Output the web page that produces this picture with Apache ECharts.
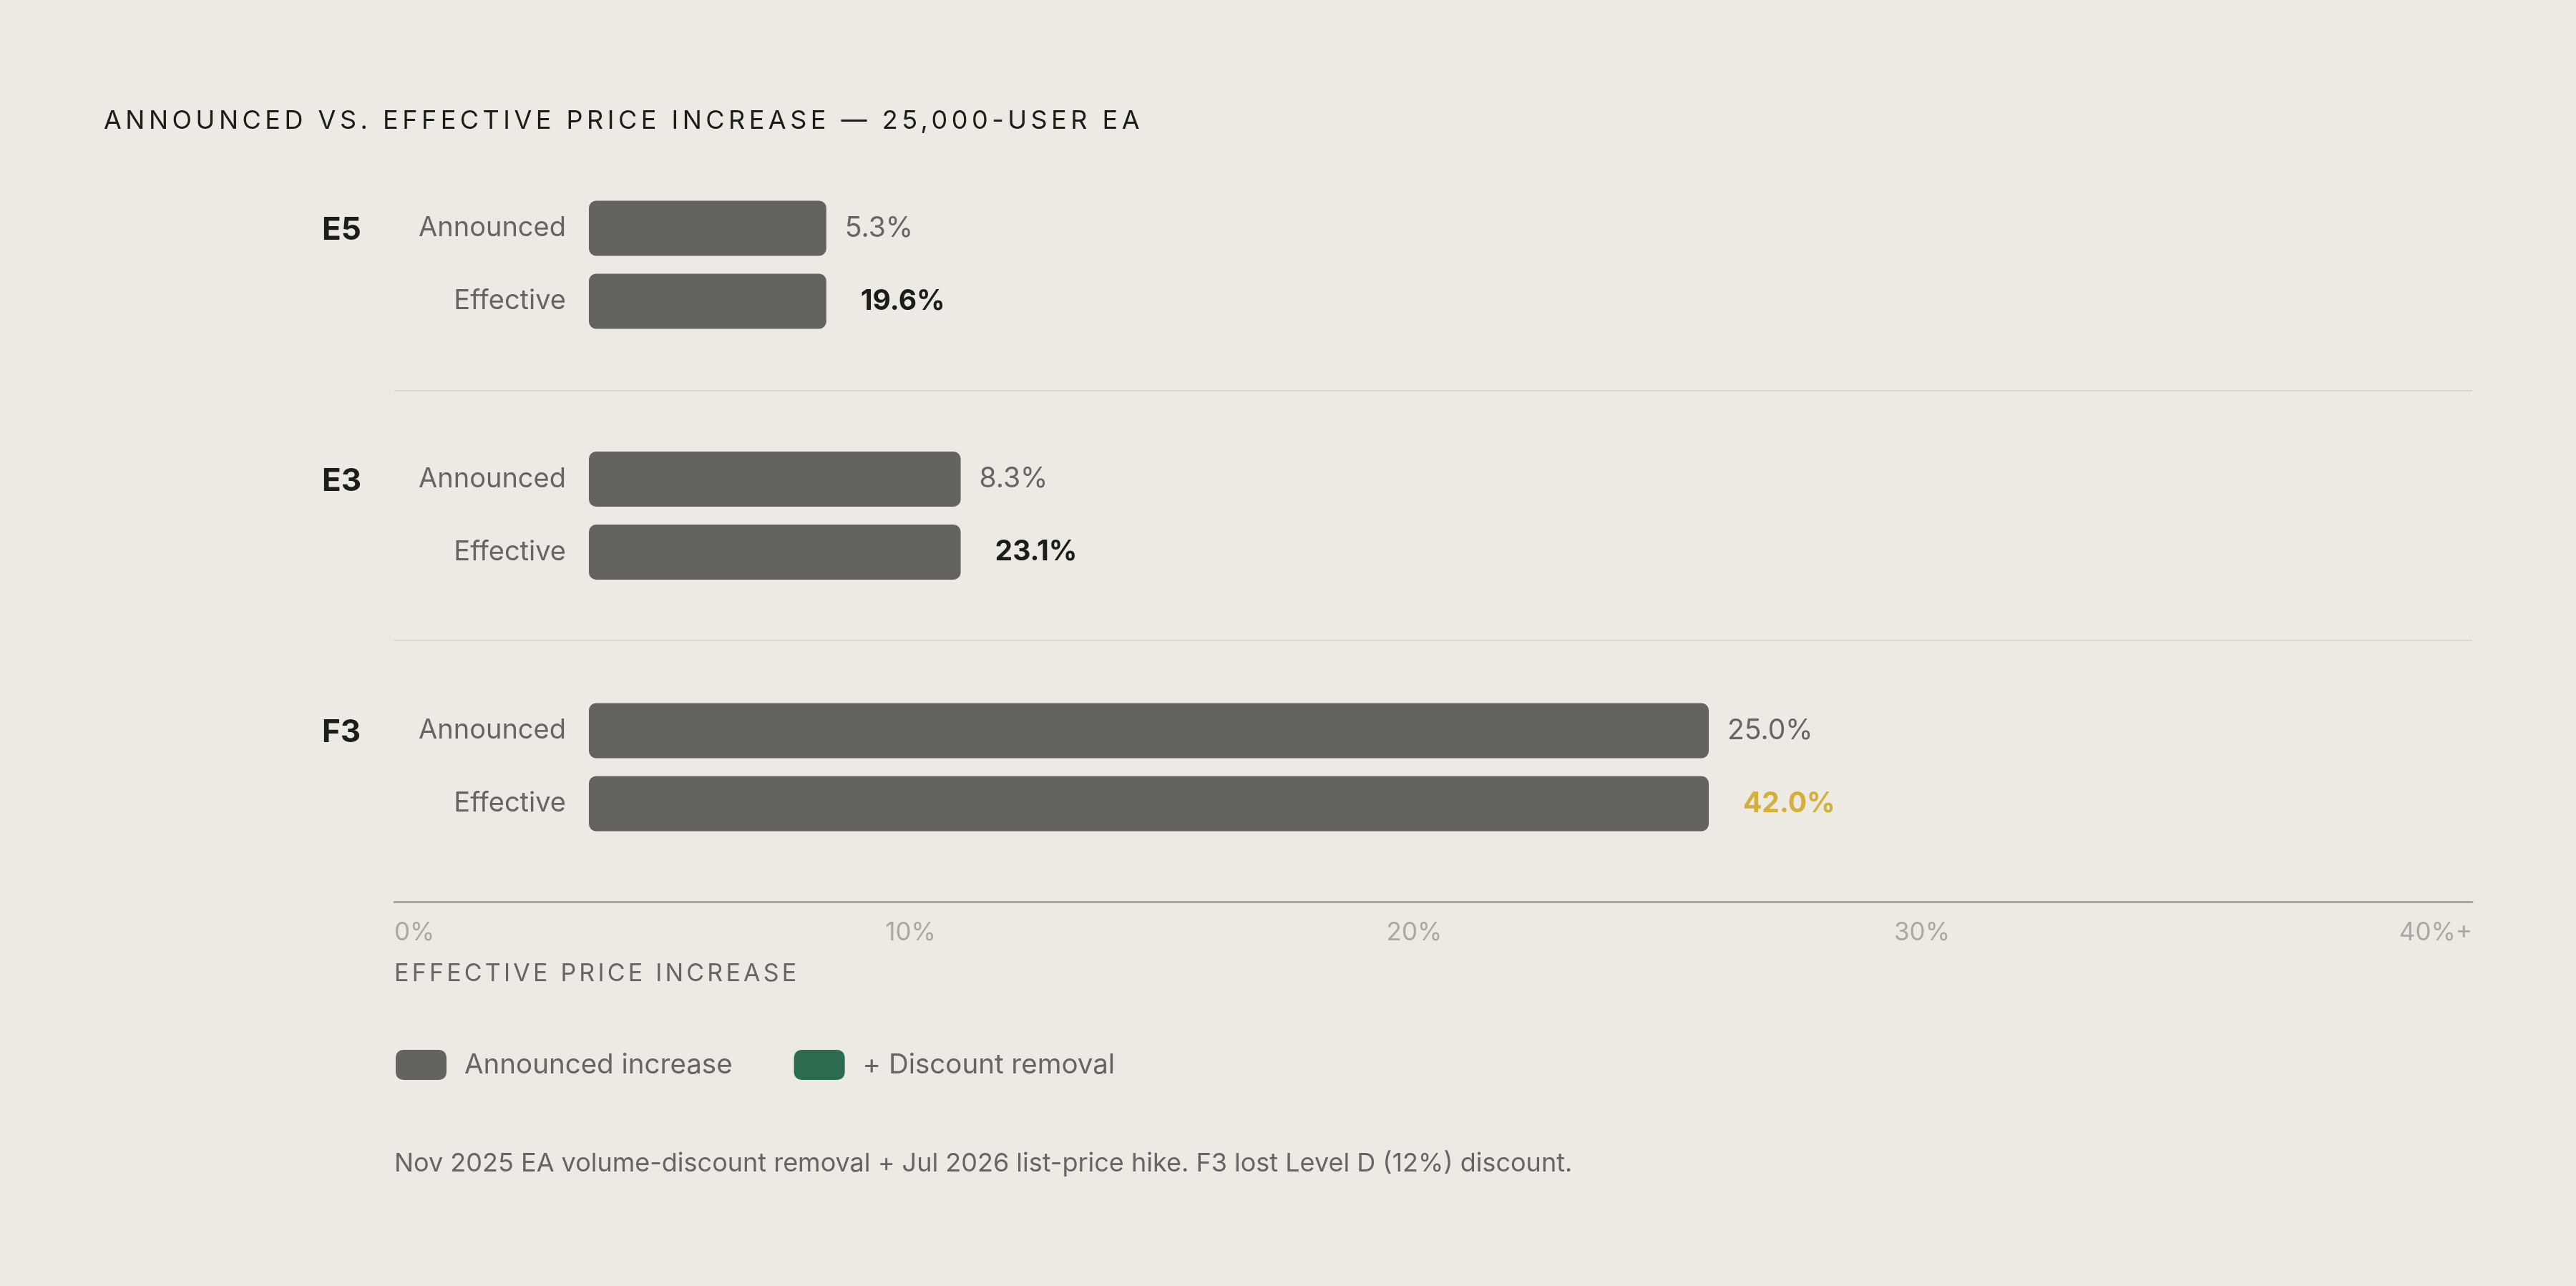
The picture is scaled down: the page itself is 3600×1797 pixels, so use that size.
<!DOCTYPE html>
<html>
<head>
<meta charset="utf-8">
<script src="https://cdn.jsdelivr.net/npm/echarts@6/dist/echarts.min.js"></script>
<style>
html,body{margin:0;padding:0;background:#EDEAE4;}
#chart{width:3600px;height:1797px;}
</style>
</head>
<body>
<div id="chart"></div>
<script>
// ---- data ----
const titleText = 'ANNOUNCED VS. EFFECTIVE PRICE INCREASE — 25,000-USER EA';
const groups = ['E5', 'E3', 'F3'];
const rowLabels = ['Announced', 'Effective'];
const announced = [5.3, 8.3, 25.0];
const effective = [19.6, 23.1, 42.0];
const discountShown = [0, 0, 0];          // visible width of the green segment in the reference
const axisTicks = [0, 10, 20, 30, 40];
const tickLabels = ['0%', '10%', '20%', '30%', '40%+'];
const axisTitle = 'EFFECTIVE PRICE INCREASE';
const legendNames = ['Announced increase', '+ Discount removal'];
const footnote = 'Nov 2025 EA volume-discount removal + Jul 2026 list-price hike. F3 lost Level D (12%) discount.';
const highlightAt = 40;

// tracked (letter-spaced) uppercase headings: apply canvas letterSpacing only while they are drawn
const tracking = {};
tracking[titleText] = 5.5;
tracking[axisTitle] = 4.2;
(function () {
  const P = CanvasRenderingContext2D.prototype;
  const orig = P.fillText;
  P.fillText = function (t, x, y, w) {
    const sp = Object.prototype.hasOwnProperty.call(tracking, t) ? tracking[t] : null;
    if (sp !== null && 'letterSpacing' in this) {
      const f = this.font;
      this.save();
      this.letterSpacing = sp + 'px';
      this.font = f;
      orig.call(this, t, x, y);
      this.restore();
      this.letterSpacing = '0px';
      this.font = f;
      return;
    }
    if ('letterSpacing' in this && this.letterSpacing !== '0px') {
      this.letterSpacing = '0px';
      this.font = this.font;
    }
    return w === undefined ? orig.call(this, t, x, y) : orig.call(this, t, x, y, w);
  };
})();

// ---- style ----
const FONT = 'Inter';
const C = {
  bg: '#EDEAE4', bar: '#64635D', green: '#2D6B4F', ink: '#1C1C1A',
  mid: '#66655F', light: '#AAA8A1', axis: '#A9A79F', sep: '#DAD7D0', gold: '#D3B03C'
};
const rowCenters = [319, 669.5, 1021];
const slot = 102;
const barLeft = 823, barSpan = 2504;

const grids = [], xAxes = [], yAxes = [], series = [];
groups.forEach((g, i) => {
  grids.push({ left: barLeft, width: barSpan, top: rowCenters[i] - slot / 2, height: slot * 2 });
  xAxes.push({ gridIndex: i, type: 'value', min: 0, max: 40, show: false });
  yAxes.push({
    gridIndex: i, type: 'category', inverse: true, data: rowLabels,
    axisLine: { show: false }, axisTick: { show: false },
    axisLabel: {
      margin: 32, align: 'right',
      formatter: (v, idx) => '{g|' + (idx === 0 ? g : '') + '}{l|' + v + '}',
      rich: {
        g: { width: 120, align: 'left', fontFamily: FONT, fontSize: 44, fontWeight: 'bold', color: C.ink, padding: [6, 0, 0, 0] },
        l: { width: 221, align: 'right', fontFamily: FONT, fontSize: 38, color: C.mid }
      }
    }
  });
  series.push({
    name: legendNames[0], type: 'bar', xAxisIndex: i, yAxisIndex: i, stack: 's' + i,
    barWidth: 77, itemStyle: { color: C.bar, borderRadius: 10 },
    data: [
      { value: announced[i], label: { show: true, position: 'right', distance: 26, formatter: announced[i].toFixed(1) + '%', fontFamily: FONT, fontSize: 39, color: C.mid } },
      { value: announced[i] }
    ]
  });
  series.push({
    name: legendNames[1], type: 'bar', xAxisIndex: i, yAxisIndex: i, stack: 's' + i,
    barWidth: 77, itemStyle: { color: C.green, borderRadius: 10 },
    data: [
      '-',
      { value: discountShown[i], label: { show: true, position: 'right', distance: 48, formatter: effective[i].toFixed(1) + '%', fontFamily: FONT, fontSize: 39, fontWeight: 'bold', color: effective[i] >= highlightAt ? C.gold : C.ink } }
    ]
  });
});

// bottom reference axis
grids.push({ left: 551, right: 145, top: 1200, height: 60 });
const shift = { 10: 9, 20: 53, 30: 86 };
xAxes.push({
  gridIndex: 3, type: 'value', min: 0, max: 40, interval: 10, position: 'bottom',
  axisLine: { show: true, lineStyle: { color: C.axis, width: 3 } },
  axisTick: { show: false }, splitLine: { show: false },
  axisLabel: {
    margin: 26, alignMinLabel: 'left', alignMaxLabel: 'right',
    fontFamily: FONT, fontSize: 35, color: C.light,
    formatter: v => {
      const t = tickLabels[axisTicks.indexOf(v)];
      return shift[v] ? '{s' + v + '|' + t + '}' : t;
    },
    rich: {
      s10: { padding: [0, shift[10], 0, 0], fontFamily: FONT, fontSize: 35, color: C.light },
      s20: { padding: [0, shift[20], 0, 0], fontFamily: FONT, fontSize: 35, color: C.light },
      s30: { padding: [0, shift[30], 0, 0], fontFamily: FONT, fontSize: 35, color: C.light }
    }
  },
  name: axisTitle, nameLocation: 'start', nameGap: 0,
  nameTextStyle: { align: 'left', verticalAlign: 'top', padding: [84, 0, 0, 0], fontFamily: FONT, fontSize: 34, color: C.mid }
});
yAxes.push({ gridIndex: 3, type: 'value', show: false });

const chart = echarts.init(document.getElementById('chart'), null, { renderer: 'canvas' });
chart.setOption({
  backgroundColor: C.bg,
  animation: false,
  title: [
    { text: titleText, left: 145, top: 151, padding: 0, textStyle: { fontFamily: FONT, fontSize: 36, fontWeight: 'normal', color: C.ink } },
    { text: footnote, left: 551, top: 1608, padding: 0, textStyle: { fontFamily: FONT, fontSize: 36, fontWeight: 'normal', color: C.mid } }
  ],
  legend: {
    data: legendNames, left: 553, top: 1467, padding: 0,
    icon: 'roundRect', itemWidth: 71, itemHeight: 42, itemGap: 86,
    textStyle: { fontFamily: FONT, fontSize: 38.5, color: C.mid, padding: [0, 0, 0, 20] }
  },
  grid: grids, xAxis: xAxes, yAxis: yAxes, series: series,
  graphic: [546, 895].map(y => ({
    type: 'line', silent: true,
    shape: { x1: 551, y1: y, x2: 3455, y2: y },
    style: { stroke: C.sep, lineWidth: 2 }
  }))
});
</script>
</body>
</html>
